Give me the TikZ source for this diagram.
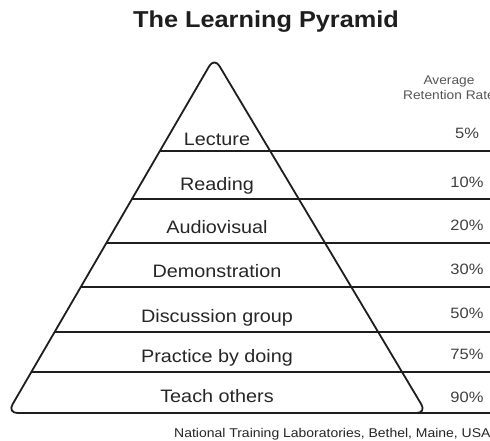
\documentclass[tikz,border=0pt]{standalone}
\usepackage{fontspec}
\setmainfont{Liberation Sans}[FakeStretch=1.1]
\usetikzlibrary{calc}
\definecolor{ink}{HTML}{1E1E1E}
\definecolor{txtc}{HTML}{262626}
\definecolor{pctc}{HTML}{404040}
\definecolor{hdrc}{HTML}{555555}
\begin{document}
\begin{tikzpicture}[x=1pt,y=-1pt,
  edge/.style={draw=ink,line width=1.8pt,line join=round,rounded corners=10pt},
  rule/.style={draw=ink,line width=1.8pt},
  lbl/.style={anchor=base,text=txtc,inner sep=0pt,font=\fontsize{18}{20}\selectfont},
  pctlbl/.style={anchor=base,text=pctc,inner sep=0pt,font=\fontsize{15}{17}\selectfont},
  hdr/.style={anchor=base,text=hdrc,inner sep=0pt,font=\fontsize{12.5}{14}\selectfont},
  ttl/.style={anchor=base,text=ink,inner sep=0pt,font=\fontsize{23}{26}\selectfont\bfseries},
  foot/.style={anchor=base west,text=txtc,inner sep=0pt,font=\fontsize{12.7}{14}\selectfont}
]
\useasboundingbox (0,0) rectangle (490,440);
\fill[white] (0,0) rectangle (490,440);
\clip (0,0) rectangle (490,440);

\coordinate (apex) at (214.3,57.4);
\coordinate (bl) at (7.5,413);
\coordinate (br) at (426.5,413);
\coordinate (bm) at (217,413);

% left ends of the band lines
\coordinate (l1) at ($(apex)!0.2632!(bl)$);
\coordinate (l2) at ($(apex)!0.3982!(bl)$);
\coordinate (l3) at ($(apex)!0.5219!(bl)$);
\coordinate (l4) at ($(apex)!0.6457!(bl)$);
\coordinate (l5) at ($(apex)!0.7722!(bl)$);
\coordinate (l6) at ($(apex)!0.8847!(bl)$);
% right ends (cut by the edge of the picture)
\coordinate (r1) at (490,151);
\coordinate (r2) at (490,199);
\coordinate (r3) at (490,243);
\coordinate (r4) at (490,287);
\coordinate (r5) at (490,332);
\coordinate (r6) at (490,372);
\coordinate (r7) at (490,413);

\draw[rule] (l1) -- (r1);
\draw[rule] (l2) -- (r2);
\draw[rule] (l3) -- (r3);
\draw[rule] (l4) -- (r4);
\draw[rule] (l5) -- (r5);
\draw[rule] (l6) -- (r6);
\draw[rule] (bm) -- (r7);

\draw[edge] (bm) -- (bl) -- (apex) -- (br) -- cycle;

\node[ttl] (title) at (266,27) {The Learning Pyramid};
\node[hdr] (avg) at (449,84) {Average};
\node[hdr] (ret) at (449,99) {Retention Rate};

\node[lbl] (n1) at (217,145) {Lecture};
\node[lbl] (n2) at (217,190) {Reading};
\node[lbl] (n3) at (217,233) {Audiovisual};
\node[lbl] (n4) at (217,277) {Demonstration};
\node[lbl] (n5) at (217,322) {Discussion group};
\node[lbl] (n6) at (217,362) {Practice by doing};
\node[lbl] (n7) at (217,402) {Teach others};

\node[pctlbl] (p1) at (467,138) {5\%};
\node[pctlbl] (p2) at (467,187) {10\%};
\node[pctlbl] (p3) at (467,230) {20\%};
\node[pctlbl] (p4) at (467,274) {30\%};
\node[pctlbl] (p5) at (467,318) {50\%};
\node[pctlbl] (p6) at (467,359) {75\%};
\node[pctlbl] (p7) at (467,402) {90\%};

\node[foot] (src) at (174,437) {National Training Laboratories, Bethel, Maine, USA};
\end{tikzpicture}
\end{document}
